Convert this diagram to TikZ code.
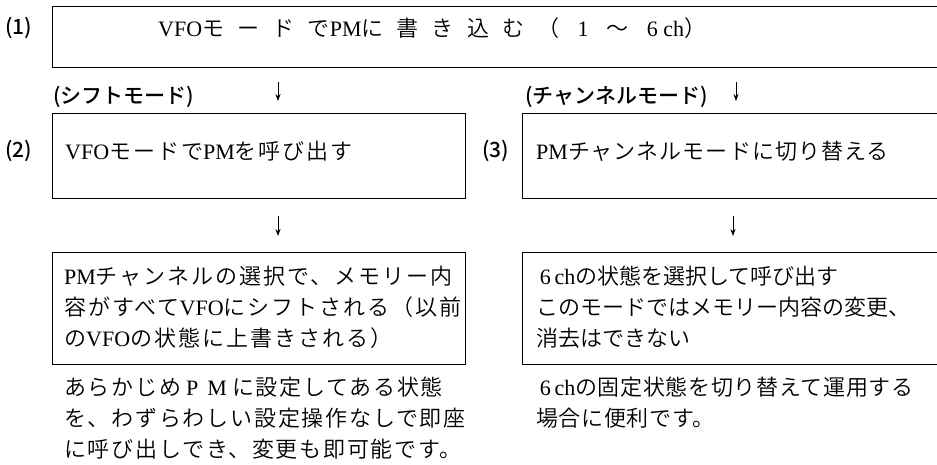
\documentclass[tikz,border=0pt]{standalone}
\usepackage{fontspec}
\usetikzlibrary{arrows.meta}
\IfFontExistsTF{Noto Sans CJK JP DemiLight}
  {\setmainfont{Noto Sans CJK JP DemiLight}}
  {\setmainfont{Noto Sans CJK JP}}
\IfFontExistsTF{Noto Sans CJK JP Medium}
  {\newfontfamily\gothic{Noto Sans CJK JP Medium}}
  {\newfontfamily\gothic{Noto Sans CJK JP}}
\newfontfamily\latn{Liberation Serif}
\newcommand\en[1]{{\latn #1}}
\tikzset{
  frame/.style={draw,line width=0.9pt,anchor=north west,inner sep=0pt},
  body/.style={anchor=west,align=left,inner sep=0pt,
    font={\fontsize{22}{31}\selectfont\addfontfeature{LetterSpace=#1}}},
  body/.default=0,
  tag/.style={anchor=west,inner sep=0pt,font=\gothic\fontsize{21}{25}\selectfont},
  arr/.style={-{Stealth[length=7pt,width=5pt]},line width=0.8pt},
}

\begin{document}
\begin{tikzpicture}[x=1pt,y=-1pt]
  \path[use as bounding box,fill=white] (0,0) rectangle (937,464);
  % step (1)
  \node[tag] (n1) at (5,28) {(1)};
  \node[frame,minimum width=893pt,minimum height=61pt] (write) at (52,6) {};
  \node[body=60] (writetxt) at (158,28)
    {\en{VFO}モードで\en{PM}に書き込む（ \en{1} ～ \en{6 ch}）};
  \node[tag] (shiftlbl) at (53,97) {(シフトモード)};
  \node[tag] (chlbl) at (525,97) {(チャンネルモード)};
  \coordinate (a1) at (278,82);  \coordinate (a1e) at (278,101);
  \coordinate (a2) at (736,82);  \coordinate (a2e) at (736,101);
  \draw[arr] (a1) -- (a1e);
  \draw[arr] (a2) -- (a2e);
  % steps (2) and (3)
  \node[tag] (n2) at (5,151) {(2)};
  \node[frame,minimum width=413pt,minimum height=85pt] (shiftcall) at (52,113) {};
  \node[body=9] (shiftcalltxt) at (65,151) {\en{VFO}モードで\en{PM}を呼び出す};
  \node[tag] (n3) at (482,151) {(3)};
  \node[frame,minimum width=423pt,minimum height=85pt] (chswitch) at (522,113) {};
  \node[body=5] (chswitchtxt) at (536,151) {\en{PM}チャンネルモードに切り替える};
  \coordinate (a3) at (278,216); \coordinate (a3e) at (278,236);
  \coordinate (a4) at (733,216); \coordinate (a4e) at (733,236);
  \draw[arr] (a3) -- (a3e);
  \draw[arr] (a4) -- (a4e);
  % results
  \node[frame,minimum width=413pt,minimum height=112pt] (shiftres) at (52,252) {};
  \node[body=9,anchor=north west] (shiftrestxt) at (64,266)
    {\en{PM}チャンネルの選択で、メモリー内\\
     容がすべて\en{VFO}にシフトされる（以前\\
     の\en{VFO}の状態に上書きされる）};
  \node[frame,minimum width=423pt,minimum height=112pt] (chres) at (522,252) {};
  \node[body,anchor=north west] (chrestxt) at (536,266)
    {\,\en{6\,ch}の状態を選択して呼び出す\\
     このモードではメモリー内容の変更、\\
     消去はできない};
  \node[body=8,anchor=north west] (shiftnote) at (64,377)
    {あらかじめ\en{\hspace{5pt}P\hspace{9pt}M\hspace{5pt}}に設定してある状態\\
     を、わずらわしい設定操作なしで即座\\
     に呼び出しでき、変更も即可能です。};
  \node[body=3,anchor=north west] (chnote) at (536,377)
    {\,\en{6\,ch}の固定状態を切り替えて運用する\\
     場合に便利です。};
\end{tikzpicture}
\end{document}
